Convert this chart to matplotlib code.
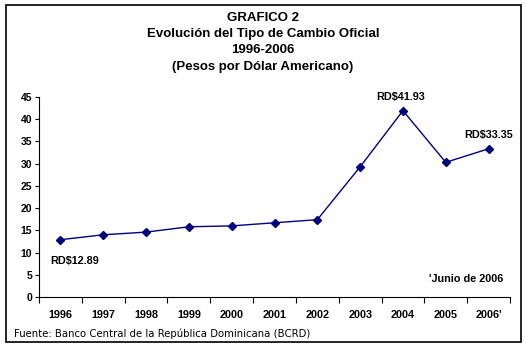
import matplotlib
matplotlib.use("Agg")
import matplotlib.pyplot as plt
from matplotlib.patches import Rectangle
import numpy as np

years = ["1996", "1997", "1998", "1999", "2000", "2001", "2002", "2003", "2004", "2005", "2006*"]
values = [12.89, 14.0, 14.6, 15.8, 16.0, 16.7, 17.4, 29.3, 41.93, 30.3, 33.35]
yticks = [0, 5, 10, 15, 20, 25, 30, 35, 40, 45]

plt.rcParams['font.family'] = ['Liberation Sans', 'DejaVu Sans']

W, H = 526, 350
fig = plt.figure(figsize=(W/100, H/100), dpi=100)
fig.patch.set_facecolor('white')

# outer border
fig.patches.append(Rectangle((6/W, 1 - 342/H), (521-6)/W, (342-5)/H, transform=fig.transFigure,
                             fill=False, edgecolor='black', linewidth=1.2))

ax = fig.add_axes([39/W, 1 - 297/H, (510-39)/W, (297-97)/H])
x = np.arange(len(years))
ax.plot(x, values, color='#000080', linewidth=1.0, marker='D', markersize=4,
        markerfacecolor='#000080', markeredgecolor='#000080')

ax.set_xlim(-0.5, len(years) - 0.5)
ax.set_ylim(0, 45)
ax.set_yticks(yticks)
ax.set_yticklabels([str(v) for v in yticks], fontsize=7.5, fontweight='bold')
ax.set_xticks(np.arange(-0.5, len(years), 1.0))
ax.set_xticklabels([])
ax.set_xticks(x, minor=True)
ax.set_xticklabels([y.replace('*', "'") for y in years], minor=True, fontsize=7.8, fontweight='bold')
ax.tick_params(axis='x', which='minor', length=0, pad=9)
ax.tick_params(axis='x', which='major', length=4, direction='out', width=0.8)
ax.tick_params(axis='y', length=3, direction='out', width=0.8, pad=2)
for s in ['top', 'right']:
    ax.spines[s].set_visible(False)
ax.spines['left'].set_linewidth(0.8)
ax.spines['bottom'].set_linewidth(0.8)

ax.annotate("RD$12.89", (0, values[0]), xytext=(10, -15), textcoords='offset points',
            ha='center', va='center', fontsize=7.8, fontweight='bold')
ax.annotate("RD$41.93", (8, values[8]), xytext=(-2, 6), textcoords='offset points',
            ha='center', va='bottom', fontsize=7.8, fontweight='bold')
ax.annotate("RD$33.35", (10, values[10]), xytext=(0, 6), textcoords='offset points',
            ha='center', va='bottom', fontsize=7.8, fontweight='bold')
ax.text(0.985, 0.09, "'Junio de 2006", transform=ax.transAxes, ha='right', va='center',
        fontsize=7.8, fontweight='bold')

title_lines = ["GRAFICO 2", "Evolución del Tipo de Cambio Oficial", "1996-2006",
               "(Pesos por Dólar Americano)"]
ys = [18, 34, 50, 67]
for t, yy in zip(title_lines, ys):
    fig.text(0.5, 1 - yy/H, t, ha='center', va='center', fontsize=9.5, fontweight='bold')

fig.text(14/W, 1 - 334/H, "Fuente: Banco Central de la República Dominicana (BCRD)",
         ha='left', va='center', fontsize=7.3, family=['DejaVu Sans'])

fig.savefig("out.png", dpi=100)
